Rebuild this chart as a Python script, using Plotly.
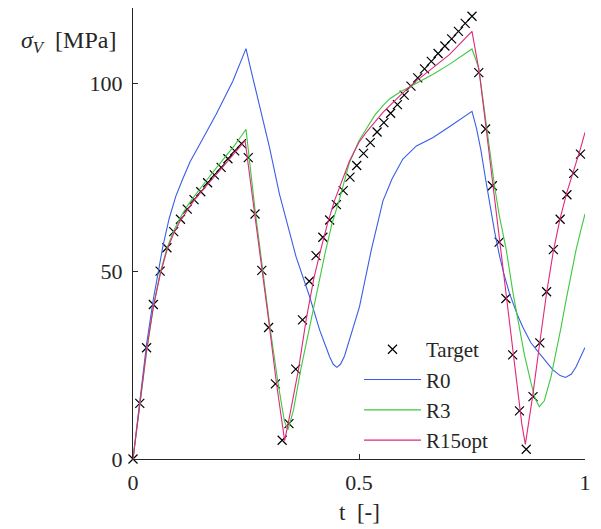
import plotly.graph_objects as go

# Target samples (t = 0, 0.015, ..., 0.99)
target_t = [round(i * 0.015, 3) for i in range(67)]
target_y = [0, 14.8, 29.6, 41.1, 50, 56.2, 60.5, 63.8, 66.5, 69, 71.1, 73.5, 75.6, 77.6,
            79.9, 82, 83.9, 80.2, 65.2, 50.2, 35, 20, 5, 9.4, 23.9, 37, 47.3, 54.1, 59,
            63.6, 67.7, 71.4, 75, 78.1, 81.3, 84.2, 87, 89.5, 92, 94.3, 96.8, 99.2, 101.4,
            103.8, 105.8, 107.9, 109.9, 111.8, 113.8, 115.9, 117.8, 102.8, 87.8, 72.7,
            57.7, 42.7, 27.7, 12.8, 2.6, 16.6, 30.9, 44.5, 55.7, 63.8, 70.3, 76, 81.1]

r0_t = [0, 0.015, 0.03, 0.045, 0.0575, 0.066, 0.08, 0.095, 0.11, 0.126, 0.148, 0.184, 0.221,
        0.25, 0.258, 0.273, 0.2875, 0.302, 0.324, 0.361, 0.391, 0.413, 0.435, 0.443, 0.451,
        0.459, 0.468, 0.486, 0.501, 0.527, 0.553, 0.573, 0.597, 0.627, 0.663, 0.70, 0.73, 0.75,
        0.76, 0.77, 0.78, 0.79, 0.80, 0.811, 0.82, 0.833, 0.85, 0.862, 0.88, 0.899, 0.929,
        0.945, 0.957, 0.97, 0.98, 1.0]
r0_y = [0, 15.5, 30.5, 42.5, 51, 56.5, 64, 70, 74.5, 79, 83.8, 91.7, 100.6,
        109.2, 105, 97.5, 90, 82.9, 70.5, 53.7, 43.1, 34.3, 27.2, 25.2, 24.4,
        25.2, 27.4, 34.3, 40.5, 55.5, 68.7, 74.5, 79.8, 83.3, 85.5, 88.4, 90.8, 92.5,
        88, 82, 74.5, 67, 60.5, 54, 49.5, 44, 38.5, 35.2, 31, 28.1, 23.7,
        22.2, 21.7, 22.6, 24.5, 29.7]

r3_t = [0, 0.015, 0.03, 0.045, 0.06, 0.075, 0.09, 0.105, 0.12, 0.135, 0.15, 0.165, 0.18, 0.195,
        0.21, 0.225, 0.24, 0.25, 0.27, 0.285, 0.304, 0.321, 0.335, 0.343, 0.355, 0.371, 0.394,
        0.41, 0.425, 0.44, 0.456, 0.479, 0.49, 0.50, 0.516, 0.535, 0.553, 0.5675, 0.59, 0.627,
        0.663, 0.70, 0.75, 0.765, 0.78, 0.79, 0.80, 0.81, 0.826, 0.841, 0.855, 0.866, 0.88,
        0.89, 0.899, 0.91, 0.925, 0.936, 0.947, 0.958, 0.97, 0.98, 0.99, 1.0]
r3_y = [0, 13.8, 28.5, 40.5, 49.5, 56, 60.7, 64.3, 67.3, 69.8, 72, 74.5, 76.8, 79,
        81.3, 83.5, 86, 87.7, 66.3, 51.5, 34.3, 20.1, 10, 7.8, 13, 23.7, 37,
        46.5, 54.8, 62.5, 68.8, 78.9, 82, 84.7, 87.8, 91.5, 94, 95.8, 97.6, 100,
        102.3, 105, 109.1, 104, 90, 81, 72.5, 65, 55.5, 44, 35, 27.7, 20.5,
        16, 13.9, 15.5, 22, 28.1, 35, 42.2, 49.5, 55.5, 60.5, 65.2]

r15_t = [0, 0.015, 0.03, 0.045, 0.06, 0.075, 0.09, 0.105, 0.12, 0.135, 0.15, 0.165, 0.18, 0.195,
         0.21, 0.225, 0.24, 0.248, 0.27, 0.285, 0.30, 0.317, 0.33, 0.3355, 0.345, 0.355, 0.366,
         0.383, 0.40, 0.415, 0.43, 0.446, 0.46, 0.479, 0.50, 0.516, 0.553, 0.59, 0.627, 0.663,
         0.70, 0.75, 0.766, 0.781, 0.811, 0.841, 0.86, 0.868, 0.876, 0.884, 0.90, 0.915, 0.93,
         0.945, 0.96, 0.975, 0.99, 1.0]
r15_y = [0, 14.5, 29, 40.5, 49, 55.5, 60, 63.5, 66.3, 68.8, 71, 73.2, 75.1, 77.2,
         79.3, 81.5, 83.6, 84.7, 64.5, 51, 37, 20.5, 9, 4.9, 10.5, 17, 23.7,
         37, 48, 55.5, 62.5, 68.8, 73.5, 79.3, 84.3, 86.9, 92.2, 96.6, 100.6, 104.1,
         107.6, 113.8, 103, 88.2, 58.1, 28.1, 9.5, 3.9, 10, 16.6, 31, 44.2, 55.3,
         64, 71, 76.5, 82.6, 86.9]

FONT = "Liberation Serif, DejaVu Serif, serif"
AX = "#262626"

fig = go.Figure()
fig.add_trace(go.Scatter(x=target_t, y=target_y, mode="markers", name="Target",
                         marker=dict(symbol="x-thin", size=9, color="black",
                                     line=dict(width=1.2, color="black")),
                         cliponaxis=False))
fig.add_trace(go.Scatter(x=r0_t, y=r0_y, mode="lines", name="R0",
                         line=dict(color="#3a5ee6", width=1.1), cliponaxis=False))
fig.add_trace(go.Scatter(x=r3_t, y=r3_y, mode="lines", name="R3",
                         line=dict(color="#3dc93d", width=1.1), cliponaxis=False))
fig.add_trace(go.Scatter(x=r15_t, y=r15_y, mode="lines", name="R15opt",
                         line=dict(color="#e0287a", width=1.1), cliponaxis=False))

axis_common = dict(showline=True, linecolor=AX, linewidth=1, ticks="inside", ticklen=5,
                   tickcolor=AX, tickwidth=1, showgrid=False, zeroline=False, mirror=False,
                   tickfont=dict(family=FONT, size=22, color="#262626"))

# page body has an 8px default margin, so the figure is sized/offset to compensate
fig.update_layout(
    width=593, height=521,
    margin=dict(l=125, r=16, t=0, b=70, autoexpand=False),
    paper_bgcolor="white", plot_bgcolor="white",
    font=dict(family=FONT, size=22, color="#262626"),
    xaxis=dict(range=[0, 1], tickvals=[0, 0.5, 1], ticktext=["0", "0.5", "1"],
               ticklabelstandoff=4, **axis_common),
    yaxis=dict(range=[0, 120], tickvals=[0, 50, 100], ticktext=["0", "50", "100"],
               ticklabelstandoff=5, **axis_common),
    legend=dict(x=0.5, y=0.288, xanchor="left", yanchor="top", bgcolor="rgba(0,0,0,0)",
                font=dict(family=FONT, size=21, color="#262626"), itemwidth=57,
                tracegroupgap=0),
    showlegend=True,
    annotations=[
        dict(text="<i>σ</i><sub><i>V</i></sub>\u00a0\u00a0[MPa]", xref="paper", yref="paper",
             x=-0.034, y=0.925, xanchor="right", yanchor="middle", showarrow=False,
             font=dict(family=FONT, size=24, color="#262626")),
        dict(text="t\u00a0\u00a0[-]", xref="paper", yref="paper",
             x=0.5, y=-0.119, xanchor="center", yanchor="middle", showarrow=False,
             font=dict(family=FONT, size=23, color="#262626")),
    ],
)

fig.write_html("out.html")
